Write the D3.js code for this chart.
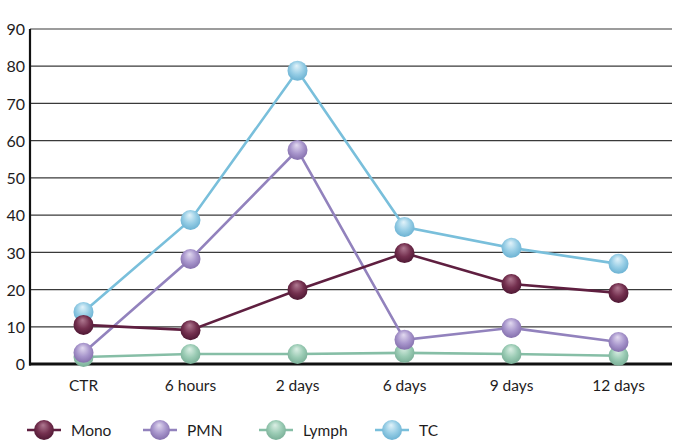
<!DOCTYPE html>
<html>
<head>
<meta charset="utf-8">
<script src="https://cdn.jsdelivr.net/npm/d3@7"></script>
<style>
  html, body { margin: 0; padding: 0; background: #fff; }
  svg text { font-family: "Lato", "Open Sans", sans-serif; fill: #1e1c1d; }
</style>
</head>
<body>
<svg id="chart" width="678" height="442"></svg>
<script>
// Time points and cell counts per series
const categories = ["CTR", "6 hours", "2 days", "6 days", "9 days", "12 days"];
const mono  = [10.5, 9.1, 19.9, 29.8, 21.5, 19.1];
const pmn   = [3.0, 28.2, 57.5, 6.5, 9.7, 5.9];
const lymph = [1.9, 2.7, 2.7, 3.0, 2.7, 2.2];
const tc    = [14.0, 38.7, 78.8, 36.8, 31.2, 26.9];
const yTicks = [0, 10, 20, 30, 40, 50, 60, 70, 80, 90];

const series = [
  { name: "Mono",  values: mono,  line: "#5f1f40", light: "#b07a92", mid: "#74304f", dark: "#4a1530" },
  { name: "PMN",   values: pmn,   line: "#9282bd", light: "#e2daf0", mid: "#a896cc", dark: "#7f6aa8" },
  { name: "Lymph", values: lymph, line: "#86bea6", light: "#dcefe5", mid: "#9acbb4", dark: "#75ab93" },
  { name: "TC",    values: tc,    line: "#79bfdb", light: "#e2f3fa", mid: "#96cde5", dark: "#65aed0" }
];

const svg = d3.select("#chart");
const x = d3.scaleBand().domain(categories).range([30, 672]);
const y = d3.scaleLinear().domain([0, 90]).range([364, 29]);
const cx = d => x(d) + x.bandwidth() / 2;

// Shaded sphere gradients
const defs = svg.append("defs");
series.forEach(s => {
  const g = defs.append("radialGradient")
    .attr("id", "grad-" + s.name)
    .attr("cx", "0.5").attr("cy", "0.45").attr("r", "0.6")
    .attr("fx", "0.45").attr("fy", "0.25");
  g.append("stop").attr("offset", "0").attr("stop-color", s.light);
  g.append("stop").attr("offset", "0.55").attr("stop-color", s.mid);
  g.append("stop").attr("offset", "1").attr("stop-color", s.dark);
});

// Horizontal grid lines
svg.append("g")
  .selectAll("line")
  .data(yTicks.filter(t => t > 0))
  .join("line")
  .attr("x1", 30).attr("x2", 672)
  .attr("y1", d => y(d)).attr("y2", d => y(d))
  .attr("stroke", "#3a3a3a").attr("stroke-width", 1.2);

// Y axis
const yAxis = svg.append("g")
  .attr("transform", "translate(30,0)")
  .call(d3.axisLeft(y).tickValues(yTicks).tickSize(0).tickPadding(5));
yAxis.select(".domain").remove();
yAxis.selectAll("text").style("font-size", "16px").attr("dy", "0.36em");
svg.append("line")
  .attr("x1", 30).attr("x2", 30).attr("y1", y(90)).attr("y2", y(0) + 1.5)
  .attr("stroke", "#111").attr("stroke-width", 2.2);

// X axis
const xAxis = svg.append("g")
  .attr("transform", `translate(0,${y(0)})`)
  .call(d3.axisBottom(x).tickSize(0).tickPadding(16));
xAxis.select(".domain").remove();
xAxis.selectAll("text").style("font-size", "15.5px");
svg.append("line")
  .attr("x1", 29).attr("x2", 672).attr("y1", y(0)).attr("y2", y(0))
  .attr("stroke", "#111").attr("stroke-width", 3);

// Lines
const line = d3.line().x((d, i) => cx(categories[i])).y(d => y(d));
const drawOrder = ["TC", "Lymph", "PMN", "Mono"];
const ordered = drawOrder.map(n => series.find(s => s.name === n));

ordered.forEach(s => {
  svg.append("path")
    .attr("d", line(s.values))
    .attr("fill", "none")
    .attr("stroke", s.line)
    .attr("stroke-width", 2.6);
});

// Markers
ordered.forEach(s => {
  svg.append("g")
    .selectAll("circle")
    .data(s.values)
    .join("circle")
    .attr("cx", (d, i) => cx(categories[i]))
    .attr("cy", d => y(d))
    .attr("r", 10)
    .attr("fill", `url(#grad-${s.name})`);
});

// Legend
const legend = svg.append("g").attr("transform", "translate(27,430)");
const item = legend.selectAll("g")
  .data(series)
  .join("g")
  .attr("transform", (d, i) => `translate(${i * 116},0)`);
item.append("line")
  .attr("x1", 0).attr("x2", 34).attr("y1", 0).attr("y2", 0)
  .attr("stroke", d => d.line).attr("stroke-width", 2.6);
item.append("circle")
  .attr("cx", 17).attr("cy", 0).attr("r", 10)
  .attr("fill", d => `url(#grad-${d.name})`);
item.append("text")
  .attr("x", 44).attr("y", 0).attr("dy", "0.36em")
  .style("font-size", "15.5px")
  .text(d => d.name);
</script>
</body>
</html>
